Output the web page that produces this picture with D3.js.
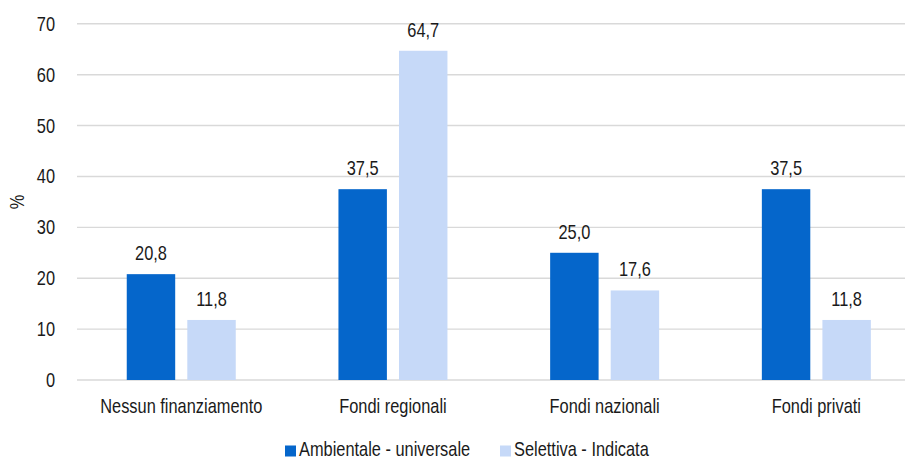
<!DOCTYPE html>
<html><head><meta charset="utf-8">
<script src="https://cdn.jsdelivr.net/npm/d3@7"></script>
<style>
body{margin:0;background:#fff;}
text{font-family:"Liberation Sans",Arial,sans-serif;fill:#1a1a1a;}
</style></head>
<body><svg id="c" width="909" height="459"></svg>
<script>
const categories = ["Nessun finanziamento","Fondi regionali","Fondi nazionali","Fondi privati"];
const seriesNames = ["Ambientale - universale","Selettiva - Indicata"];
const ambientale = [20.8, 37.5, 25.0, 37.5];
const selettiva = [11.8, 64.7, 17.6, 11.8];
const yTicks = [0,10,20,30,40,50,60,70];
const colors = ["#0566cb","#c6d9f8"];

const svg = d3.select("#c");
const FS = 20, SX = 0.82;
// narrow text helper (Arial Narrow look)
function ntext(sel, x, y, str, anchor, rot){
  return sel.append("text")
    .attr("transform", `translate(${x},${y})` + (rot?` rotate(${rot})`:"") + ` scale(${SX},1)`)
    .attr("text-anchor", anchor||"start").attr("font-size", FS).text(str);
}

const x0 = d3.scaleBand().domain(categories).range([75.4, 922.2]).padding(0);
const groupW = 109;
const x1 = d3.scaleBand().domain([0,1])
  .range([x0.bandwidth()/2 - groupW/2, x0.bandwidth()/2 + groupW/2]).paddingInner(0.2);
const y = d3.scaleLinear().domain([0,70]).range([380, 23.8]);

// gridlines
svg.append("g").selectAll("line").data(yTicks).join("line")
  .attr("x1", 77).attr("x2", 905)
  .attr("y1", d=>y(d)).attr("y2", d=>y(d))
  .attr("stroke", "#d9d9d9").attr("stroke-width", 1.4);

// y labels
const yl = svg.append("g");
yTicks.forEach(t=>ntext(yl, 55, y(t)+7, t, "end"));

ntext(svg, 24, y(35), "%", "middle", -90);

const data = [ambientale, selettiva];
const g = svg.append("g");
categories.forEach((c,i)=>{
  data.forEach((s,j)=>{
    const bx = x0(c)+x1(j);
    g.append("rect").attr("x",bx).attr("y",y(s[i])).attr("width",x1.bandwidth())
      .attr("height", y(0)-y(s[i])).attr("fill",colors[j]);
    ntext(g, bx+x1.bandwidth()/2, y(s[i])-14, d3.format(".1f")(s[i]).replace(".",","), "middle");
  });
  ntext(svg, x0(c)+x0.bandwidth()/2, 413, c, "middle");
});

// legend
const leg = svg.append("g");
const legX = [285, 500];
seriesNames.forEach((n,j)=>{
  leg.append("rect").attr("x",legX[j]).attr("y",445.5).attr("width",11).attr("height",11).attr("fill",colors[j]);
  ntext(leg, legX[j]+14, 456, n, "start");
});
</script></body></html>
